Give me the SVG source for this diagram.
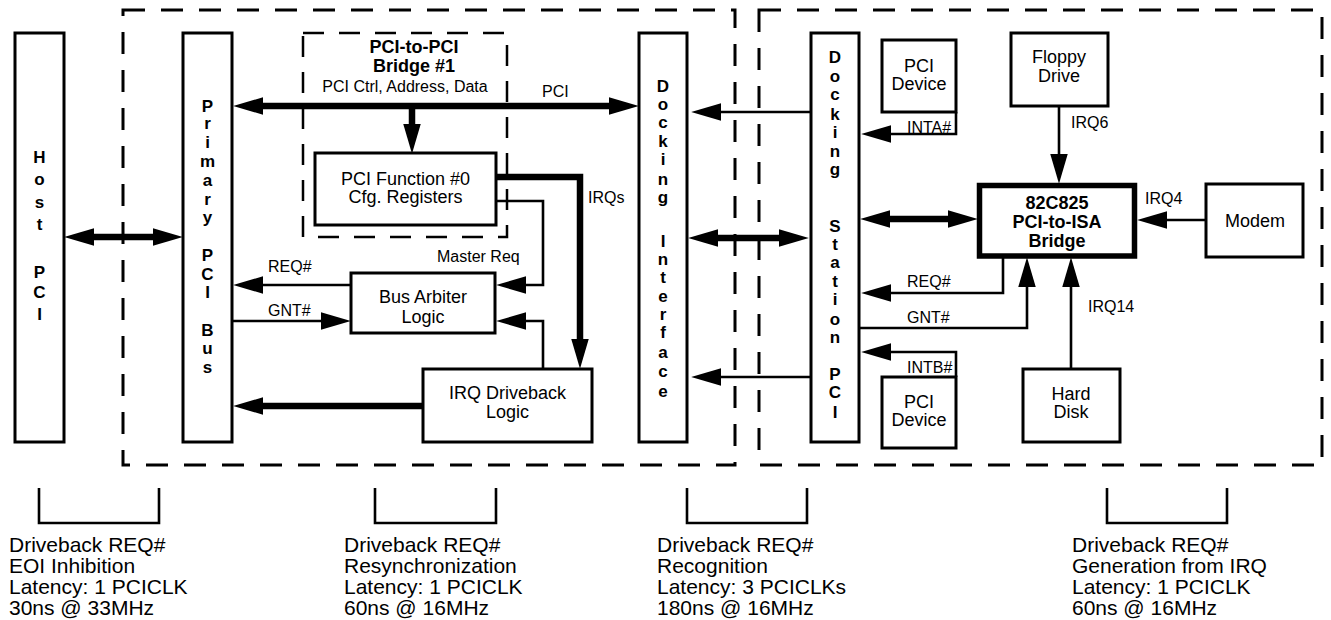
<svg xmlns="http://www.w3.org/2000/svg" width="1331" height="620" viewBox="0 0 1331 620">
<style>
.box{fill:#fff;stroke:#000;stroke-width:3}
.dash{fill:none;stroke:#000;stroke-width:3;stroke-dasharray:22 16}
.dash2{fill:none;stroke:#000;stroke-width:2.5;stroke-dasharray:21 15}
.thin{fill:none;stroke:#000;stroke-width:2.6;stroke-linejoin:miter}
.thick{fill:none;stroke:#000;stroke-width:6.5;stroke-linejoin:miter}
text{font-family:"Liberation Sans",Arial,Helvetica,sans-serif;fill:#000}
.t{font-size:18px;text-anchor:middle}
.b{font-weight:bold}
.v{font-size:17px;font-weight:bold;text-anchor:middle}
.lbl{font-size:16px}
.bot{font-size:21px}
</style>
<defs>
<marker id="ah" markerUnits="userSpaceOnUse" markerWidth="30" markerHeight="18" refX="5" refY="8.5" orient="auto-start-reverse" viewBox="0 0 29 17">
<path d="M0,0 L29,8.5 L0,17 z" fill="#000"/>
</marker>
</defs>
<rect width="1331" height="620" fill="#fff"/>

<g id="regions">
<rect class="dash" x="123" y="10" width="612" height="455"/>
<rect class="dash" x="759" y="10" width="563" height="455"/>
<rect id="bridge1" class="dash2" x="303" y="33" width="204" height="204"/>
</g>

<g id="host-pci">
<rect class="box" x="15" y="33" width="49" height="409"/>
<text class="v"><tspan x="39.5" y="163">H</tspan><tspan x="39.5" y="185">o</tspan><tspan x="39.5" y="208">s</tspan><tspan x="39.5" y="230">t</tspan><tspan x="39.5" y="278">P</tspan><tspan x="39.5" y="298">C</tspan><tspan x="39.5" y="320">I</tspan></text>
</g>

<g id="primary-pci-bus">
<rect class="box" x="183" y="33" width="49" height="409"/>
<text class="v"><tspan x="207.5" y="112">P</tspan><tspan x="207.5" y="129">r</tspan><tspan x="207.5" y="148">i</tspan><tspan x="207.5" y="167">m</tspan><tspan x="207.5" y="186">a</tspan><tspan x="207.5" y="205">r</tspan><tspan x="207.5" y="223">y</tspan><tspan x="207.5" y="261">P</tspan><tspan x="207.5" y="280">C</tspan><tspan x="207.5" y="298">I</tspan><tspan x="207.5" y="336">B</tspan><tspan x="207.5" y="354">u</tspan><tspan x="207.5" y="373">s</tspan></text>
</g>

<g id="bridge-title">
<text class="t b"><tspan x="414" y="53">PCI-to-PCI</tspan><tspan x="414" y="72">Bridge #1</tspan></text>
<text class="t lbl" x="405" y="92">PCI Ctrl, Address, Data</text>
</g>

<g id="pci-function">
<rect class="box" x="315" y="153" width="181" height="72"/>
<text class="t"><tspan x="405.5" y="185">PCI Function #0</tspan><tspan x="405.5" y="203">Cfg. Registers</tspan></text>
</g>

<g id="bus-arbiter">
<rect class="box" x="351" y="273" width="144" height="60"/>
<text class="t"><tspan x="423" y="303">Bus Arbiter</tspan><tspan x="423" y="323">Logic</tspan></text>
</g>

<g id="irq-driveback">
<rect class="box" x="423" y="369" width="169" height="73"/>
<text class="t"><tspan x="507.5" y="399">IRQ Driveback</tspan><tspan x="507.5" y="418">Logic</tspan></text>
</g>

<g id="docking-interface">
<rect class="box" x="639" y="33" width="48" height="409"/>
<text class="v"><tspan x="663" y="92">D</tspan><tspan x="663" y="110">o</tspan><tspan x="663" y="128">c</tspan><tspan x="663" y="147">k</tspan><tspan x="663" y="165">i</tspan><tspan x="663" y="185">n</tspan><tspan x="663" y="203">g</tspan><tspan x="663" y="247">I</tspan><tspan x="663" y="265">n</tspan><tspan x="663" y="283">t</tspan><tspan x="663" y="302">e</tspan><tspan x="663" y="320">r</tspan><tspan x="663" y="338">f</tspan><tspan x="663" y="358">a</tspan><tspan x="663" y="377">c</tspan><tspan x="663" y="397">e</tspan></text>
</g>

<g id="docking-station-pci">
<rect class="box" x="811" y="33" width="48" height="409"/>
<text class="v"><tspan x="835" y="63">D</tspan><tspan x="835" y="82">o</tspan><tspan x="835" y="100">c</tspan><tspan x="835" y="120">k</tspan><tspan x="835" y="138">i</tspan><tspan x="835" y="157">n</tspan><tspan x="835" y="175">g</tspan><tspan x="835" y="232">S</tspan><tspan x="835" y="250">t</tspan><tspan x="835" y="268">a</tspan><tspan x="835" y="287">t</tspan><tspan x="835" y="305">i</tspan><tspan x="835" y="325">o</tspan><tspan x="835" y="343">n</tspan><tspan x="835" y="380">P</tspan><tspan x="835" y="398">C</tspan><tspan x="835" y="418">I</tspan></text>
</g>

<g id="pci-device-a">
<rect class="box" x="882" y="40" width="74" height="72"/>
<text class="t"><tspan x="919" y="72">PCI</tspan><tspan x="919" y="90">Device</tspan></text>
</g>

<g id="pci-device-b">
<rect class="box" x="882" y="377" width="74" height="71"/>
<text class="t"><tspan x="919" y="408">PCI</tspan><tspan x="919" y="426">Device</tspan></text>
</g>

<g id="floppy-drive">
<rect class="box" x="1011" y="33" width="97" height="73"/>
<text class="t"><tspan x="1059" y="63">Floppy</tspan><tspan x="1059" y="82">Drive</tspan></text>
</g>

<g id="isa-bridge">
<rect x="979.5" y="185.5" width="155" height="70.5" fill="#fff" stroke="#000" stroke-width="5.5"/>
<text class="t b"><tspan x="1057" y="209">82C825</tspan><tspan x="1057" y="228">PCI-to-ISA</tspan><tspan x="1057" y="247">Bridge</tspan></text>
</g>

<g id="modem">
<rect class="box" x="1206" y="184" width="97" height="73"/>
<text class="t" x="1255" y="227">Modem</text>
</g>

<g id="hard-disk">
<rect class="box" x="1023" y="369" width="97" height="73"/>
<text class="t"><tspan x="1071" y="400">Hard</tspan><tspan x="1071" y="418">Disk</tspan></text>
</g>

<g id="connectors">
<path class="thick" d="M89,237 H158" marker-start="url(#ah)" marker-end="url(#ah)"/>
<path class="thick" d="M258,106 H614" marker-start="url(#ah)" marker-end="url(#ah)"/>
<path class="thick" d="M412,106 V129" marker-end="url(#ah)"/>
<path class="thick" d="M496,177 H580 V344" marker-end="url(#ah)"/>
<path class="thin" d="M496,201 H543 V285 H521" marker-end="url(#ah)"/>
<path class="thin" d="M543,369 V321 H521" marker-end="url(#ah)"/>
<path class="thin" d="M351,285 H258" marker-end="url(#ah)"/>
<path class="thin" d="M232,321 H326" marker-end="url(#ah)"/>
<path class="thick" d="M423,406 H258" marker-end="url(#ah)"/>
<path class="thin" d="M811,112 H716" marker-end="url(#ah)"/>
<path class="thin" d="M811,377 H716" marker-end="url(#ah)"/>
<path class="thick" d="M713,238 H784" marker-start="url(#ah)" marker-end="url(#ah)"/>
<path class="thin" d="M956,112 V134 H886" marker-end="url(#ah)"/>
<path class="thin" d="M956,377 V352 H886" marker-end="url(#ah)"/>
<path class="thick" d="M885,219 H953" marker-start="url(#ah)" marker-end="url(#ah)"/>
<path class="thin" d="M1003,258 V293 H886" marker-end="url(#ah)"/>
<path class="thin" d="M859,328 H1027 V282" marker-end="url(#ah)"/>
<path class="thin" d="M1059,106 V159" marker-end="url(#ah)"/>
<path class="thin" d="M1206,220 H1162" marker-end="url(#ah)"/>
<path class="thin" d="M1071,368 V282" marker-end="url(#ah)"/>
<text class="lbl" x="542" y="97">PCI</text>
<text class="lbl" x="588" y="203">IRQs</text>
<text class="lbl" x="437" y="262">Master Req</text>
<text class="lbl" x="268" y="272">REQ#</text>
<text class="lbl" x="268" y="316">GNT#</text>
<text class="lbl" x="907" y="133">INTA#</text>
<text class="lbl" x="907" y="373">INTB#</text>
<text class="lbl" x="907" y="287">REQ#</text>
<text class="lbl" x="907" y="323">GNT#</text>
<text class="lbl" x="1071" y="128">IRQ6</text>
<text class="lbl" x="1145" y="204">IRQ4</text>
<text class="lbl" x="1088" y="312">IRQ14</text>
</g>

<g id="latency-notes">
<path class="thin" stroke-width="3" d="M39,488 V523 H159 V488"/>
<path class="thin" stroke-width="3" d="M375,488 V523 H496 V488"/>
<path class="thin" stroke-width="3" d="M687,488 V523 H807 V488"/>
<path class="thin" stroke-width="3" d="M1107,488 V523 H1227 V488"/>
<text class="bot"><tspan x="9" y="552">Driveback REQ#</tspan><tspan x="9" y="573">EOI Inhibition</tspan><tspan x="9" y="594">Latency: 1 PCICLK</tspan><tspan x="9" y="615">30ns @ 33MHz</tspan></text>
<text class="bot"><tspan x="344" y="552">Driveback REQ#</tspan><tspan x="344" y="573">Resynchronization</tspan><tspan x="344" y="594">Latency: 1 PCICLK</tspan><tspan x="344" y="615">60ns @ 16MHz</tspan></text>
<text class="bot"><tspan x="657" y="552">Driveback REQ#</tspan><tspan x="657" y="573">Recognition</tspan><tspan x="657" y="594">Latency: 3 PCICLKs</tspan><tspan x="657" y="615">180ns @ 16MHz</tspan></text>
<text class="bot"><tspan x="1072" y="552">Driveback REQ#</tspan><tspan x="1072" y="573">Generation from IRQ</tspan><tspan x="1072" y="594">Latency: 1 PCICLK</tspan><tspan x="1072" y="615">60ns @ 16MHz</tspan></text>
</g>
</svg>
